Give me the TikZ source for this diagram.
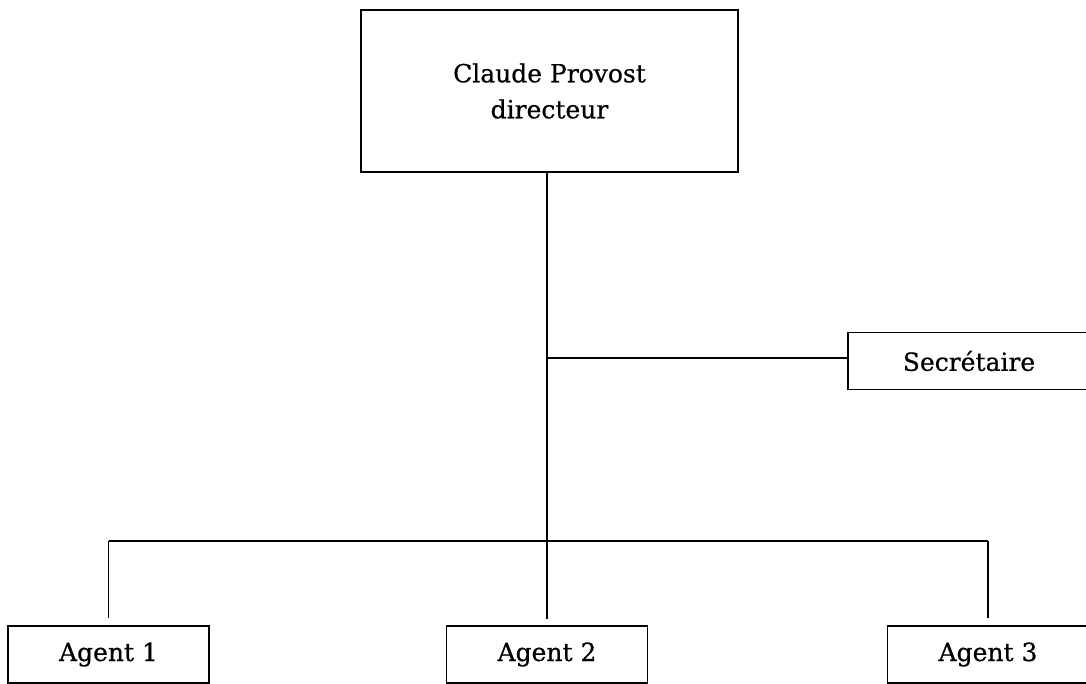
\documentclass[tikz,border=0pt]{standalone}
\usepackage{fontspec}
\setmainfont[FakeBold=0.6]{DejaVu Serif}
\usetikzlibrary{calc}

\begin{document}
\begin{tikzpicture}
	[x=0.5pt,y=-0.5pt,line width=0.9pt,
	every node/.style={font=\fontsize{12.5}{18}\selectfont,inner sep=0pt},
	poste/.style={draw,minimum width=100.5pt,minimum height=28.5pt}]
	\clip (0,0) rectangle (1086,684);
	\node[draw,line width=1.1pt,minimum width=188.5pt,minimum height=81pt,align=center] (directeur) at (549.5,91) {Claude Provost\\directeur};
	\node[poste,minimum width=121pt] (secretaire) at (969,361) {Secrétaire};
	\node[poste] (agent1) at (108.5,654.5) {Agent 1};
	\node[poste] (agent2) at (547,654.5) {Agent 2};
	\node[poste] (agent3) at (988,654.5) {Agent 3};
	\coordinate (fourche) at (547,541);
	\coordinate (branche) at (547,358);
	\draw[shorten >=3pt] (directeur.south -| fourche) -- (agent2.north);
	\draw (branche) -- (secretaire.west |- branche);
	\draw[shorten >=3.5pt] (agent1.north |- fourche) -- (agent1.north);
	\draw (agent1.north |- fourche) -- (agent3.north |- fourche);
	\draw[shorten >=3.5pt] (agent3.north |- fourche) -- (agent3.north);
\end{tikzpicture}
\end{document}
